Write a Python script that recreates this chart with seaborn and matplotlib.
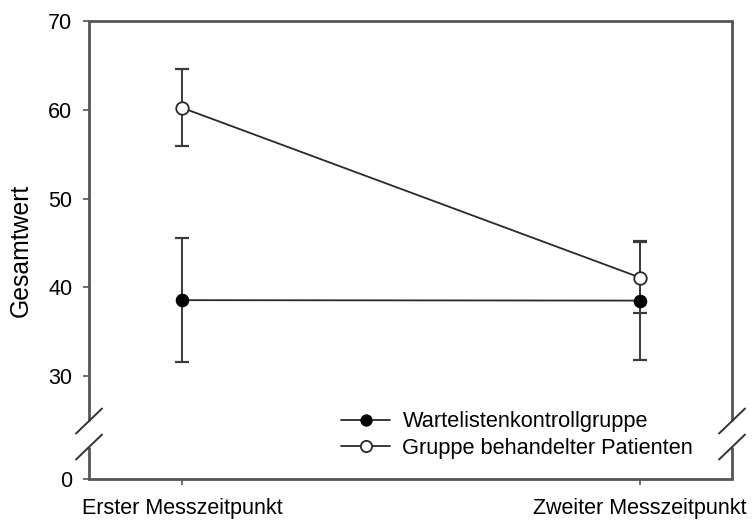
import matplotlib
matplotlib.use("Agg")
import matplotlib.pyplot as plt
from matplotlib.transforms import ScaledTranslation
import seaborn as sns
import pandas as pd

# ---- data ----
categories = ["Erster Messzeitpunkt", "Zweiter Messzeitpunkt"]
x_pos = [0, 1]
warte_mean = [38.55, 38.5]
warte_err = [6.95, 6.7]
patient_mean = [60.23, 41.1]
patient_err = [4.33, 3.95]
series_labels = ["Wartelistenkontrollgruppe", "Gruppe behandelter Patienten"]
ytick_values = [30, 40, 50, 60, 70]
ytick_labels = ["0", "30", "40", "50", "60", "70"]

# broken-axis layout (display convention): bottom of axis shows "0"
ZERO_POS = 18.4
GAP_LOW, GAP_HIGH = 22.0, 24.93

sns.set_theme(style="white")
plt.rcParams['font.family'] = ['Liberation Sans', 'DejaVu Sans']
plt.rcParams['text.color'] = 'black'
plt.rcParams['xtick.color'] = 'black'
plt.rcParams['ytick.color'] = 'black'
plt.rcParams['axes.labelcolor'] = 'black'

fig = plt.figure(figsize=(7.52, 5.23), dpi=100)
ax = fig.add_axes([89/752, 1-479/523, (732-89)/752, (479-21)/523])

line_col = "#2a2a2a"
spine_col = "#555555"

df_w = pd.DataFrame({"x": x_pos, "y": warte_mean})
df_p = pd.DataFrame({"x": x_pos, "y": patient_mean})

# error bars
ax.errorbar(x_pos, warte_mean, yerr=warte_err, fmt="none", ecolor="#3a3a3a",
            elinewidth=1.4, capsize=5, capthick=1.6, zorder=2)
ax.errorbar(x_pos, patient_mean, yerr=patient_err, fmt="none", ecolor="#3a3a3a",
            elinewidth=1.4, capsize=5, capthick=1.6, zorder=2)

sns.lineplot(data=df_w, x="x", y="y", ax=ax, color=line_col, linewidth=1.3,
             marker="o", markersize=9, markerfacecolor="black",
             markeredgecolor="black", label=series_labels[0], zorder=3)
sns.lineplot(data=df_p, x="x", y="y", ax=ax, color=line_col, linewidth=1.3,
             marker="o", markersize=9, markerfacecolor="white",
             markeredgecolor=line_col, markeredgewidth=1.3,
             label=series_labels[1], zorder=3)

ax.set_xlim(-0.203, 1.201)
ax.set_ylim(ZERO_POS, 70)
ax.set_xticks(x_pos)
ax.set_xticklabels(categories, fontsize=15.5)
ax.set_yticks([ZERO_POS] + ytick_values)
ax.set_yticklabels(ytick_labels, fontsize=15.5)
ax.set_xlabel("")
ax.set_ylabel("Gesamtwert", fontsize=17.8, labelpad=11)

ax.tick_params(axis="both", which="both", direction="out", length=4.5,
               width=1.2, color=spine_col, left=True, bottom=True)
ax.tick_params(axis="x", pad=9.5)
ax.tick_params(axis="y", pad=7.5)

# spines: keep top & bottom, draw broken left/right manually
for s in ["top", "bottom"]:
    ax.spines[s].set_color(spine_col)
    ax.spines[s].set_linewidth(2)
for s in ["left", "right"]:
    ax.spines[s].set_visible(False)

tr = ax.get_yaxis_transform()
for xa in [0, 1]:
    ax.plot([xa, xa], [ZERO_POS, GAP_LOW], transform=tr, color=spine_col,
            lw=2, clip_on=False, solid_capstyle="butt")
    ax.plot([xa, xa], [GAP_HIGH, 70], transform=tr, color=spine_col,
            lw=2, clip_on=False, solid_capstyle="butt")

# diagonal break marks
for xa in [0, 1]:
    for yv in [GAP_LOW, GAP_HIGH]:
        t1 = tr + ScaledTranslation(-13/100, -12.5/100, fig.dpi_scale_trans)
        t2 = tr + ScaledTranslation(13/100, 12.5/100, fig.dpi_scale_trans)
        p1 = t1.transform((xa, yv))
        p2 = t2.transform((xa, yv))
        ax.plot([p1[0], p2[0]], [p1[1], p2[1]], transform=None,
                color="#333333", lw=1.4, clip_on=False)

leg = ax.legend(loc="center left", bbox_to_anchor=((341-89)/643, (479-435)/458),
                frameon=False, fontsize=15.7, handlelength=2.27, handletextpad=0.55,
                labelspacing=0.25, borderpad=0, borderaxespad=0, markerscale=0.9)

fig.savefig("out.png", dpi=100)
